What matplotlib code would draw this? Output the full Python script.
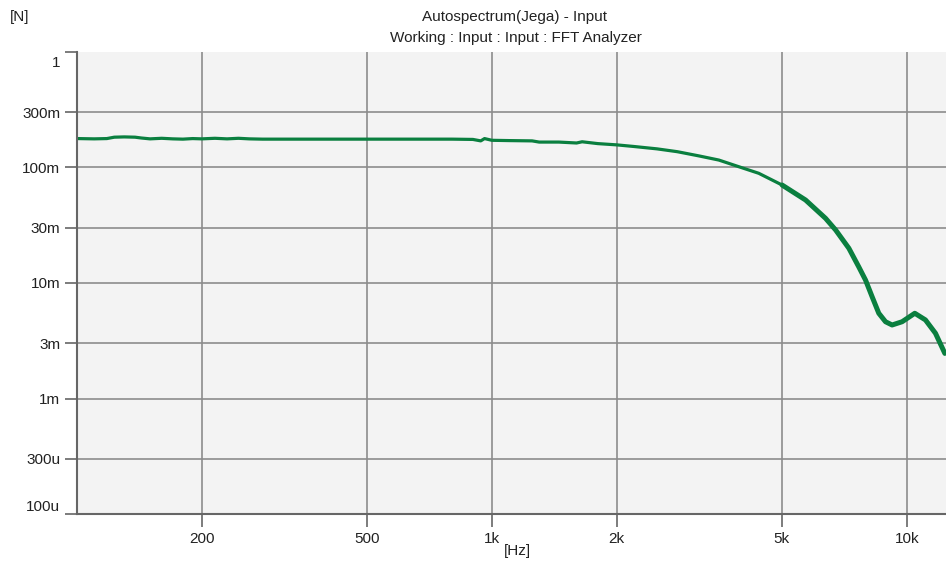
import matplotlib
matplotlib.use('Agg')
import matplotlib.pyplot as plt
import matplotlib.transforms as mtransforms

plt.rcParams['font.family'] = ['Liberation Sans', 'DejaVu Sans']
plt.rcParams['font.size'] = 11

# Autospectrum readout (frequency in Hz, level in N)
freq = [100.5, 110, 118, 123, 130, 138, 143, 150, 160, 170, 180, 190, 200,
        215, 230, 245, 260, 280, 320, 400, 500, 600, 700, 800, 900, 940, 960,
        1000, 1100, 1250, 1300, 1450, 1600, 1650, 1800, 2000, 2200, 2500,
        2800, 3155, 3524, 3936, 4397, 5006, 5702, 6371, 6736, 7250, 7660,
        7954, 8250, 8561, 8886, 9217, 9743, 10454, 11090, 11726, 12350]
level = [0.178, 0.177, 0.178, 0.183, 0.184, 0.183, 0.180, 0.177, 0.179,
         0.177, 0.176, 0.178, 0.177, 0.179, 0.177, 0.179, 0.177, 0.176,
         0.176, 0.176, 0.176, 0.176, 0.176, 0.176, 0.175, 0.170, 0.178,
         0.172, 0.171, 0.170, 0.166, 0.166, 0.163, 0.167, 0.161, 0.157,
         0.152, 0.145, 0.137, 0.126, 0.116, 0.1016, 0.0891, 0.0705, 0.0523,
         0.0363, 0.0288, 0.0200, 0.0138, 0.0106, 0.0076, 0.00547, 0.00462,
         0.00433, 0.00462, 0.00547, 0.00479, 0.00367, 0.00246]

# above this the trace gets noisy and looks like a thicker band
noisy_from = 5000

x_ticks = [200, 500, 1000, 2000, 5000, 10000]
x_labels = ['200', '500', '1k', '2k', '5k', '10k']
y_ticks = [1e-4, 3e-4, 1e-3, 3e-3, 1e-2, 3e-2, 1e-1, 3e-1, 1]
y_labels = ['100u', '300u', '1m', '3m', '10m', '30m', '100m', '300m', '1']

fig = plt.figure(figsize=(9.46, 5.62), dpi=100)
ax = fig.add_axes([77 / 946, 48 / 562, 870 / 946, 462 / 562])
ax.set_facecolor('#f3f3f3')

green = '#0a7f3f'
ax.plot(freq, level, color=green, linewidth=2.3, solid_joinstyle='round')
tail_f = [f for f in freq if f >= noisy_from]
tail_v = [v for f, v in zip(freq, level) if f >= noisy_from]
ax.plot(tail_f, tail_v, color=green, linewidth=3.6, solid_joinstyle='round',
        solid_capstyle='round')

ax.set_xscale('log')
ax.set_yscale('log')
ax.set_xlim(100, 12500)
ax.set_ylim(1e-4, 1)

ax.set_xticks(x_ticks)
ax.set_xticklabels(x_labels)
ax.set_yticks(y_ticks)
ax.set_yticklabels(y_labels)
ax.minorticks_off()

ax.grid(True, color='#8c8c8c', linewidth=1.2)
ax.set_axisbelow(True)
ax.get_ygridlines()[-1].set_visible(False)

for side in ['top', 'right']:
    ax.spines[side].set_visible(False)
for side in ['left', 'bottom']:
    ax.spines[side].set_color('#666666')
    ax.spines[side].set_linewidth(1.5)

ax.tick_params(axis='both', colors='#666666', labelcolor='#222222',
               length=9, width=1.2, labelsize=11)
ax.tick_params(axis='x', pad=4)
ax.tick_params(axis='y', pad=3)

# end labels pulled inside the axis range like the analyzer does
ylabs = ax.get_yticklabels()
ylabs[0].set_va('bottom')
ylabs[-1].set_va('top')
ylabs[-1].set_transform(ylabs[-1].get_transform() +
                        mtransforms.ScaledTranslation(0, -3 / 72, fig.dpi_scale_trans))

fig.text(514 / 946, 1 - 17 / 562, 'Autospectrum(Jega) - Input',
         ha='center', va='center', fontsize=11, color='#222222')
fig.text(516 / 946, 1 - 38 / 562, 'Working : Input : Input : FFT Analyzer',
         ha='center', va='center', fontsize=11, color='#222222')
fig.text(20 / 946, 1 - 17 / 562, '[N]', ha='center', va='center',
         fontsize=11, color='#222222')
fig.text(517 / 946, 1 - 551 / 562, '[Hz]', ha='center', va='center',
         fontsize=11, color='#222222')

fig.savefig('out.png', dpi=100)
